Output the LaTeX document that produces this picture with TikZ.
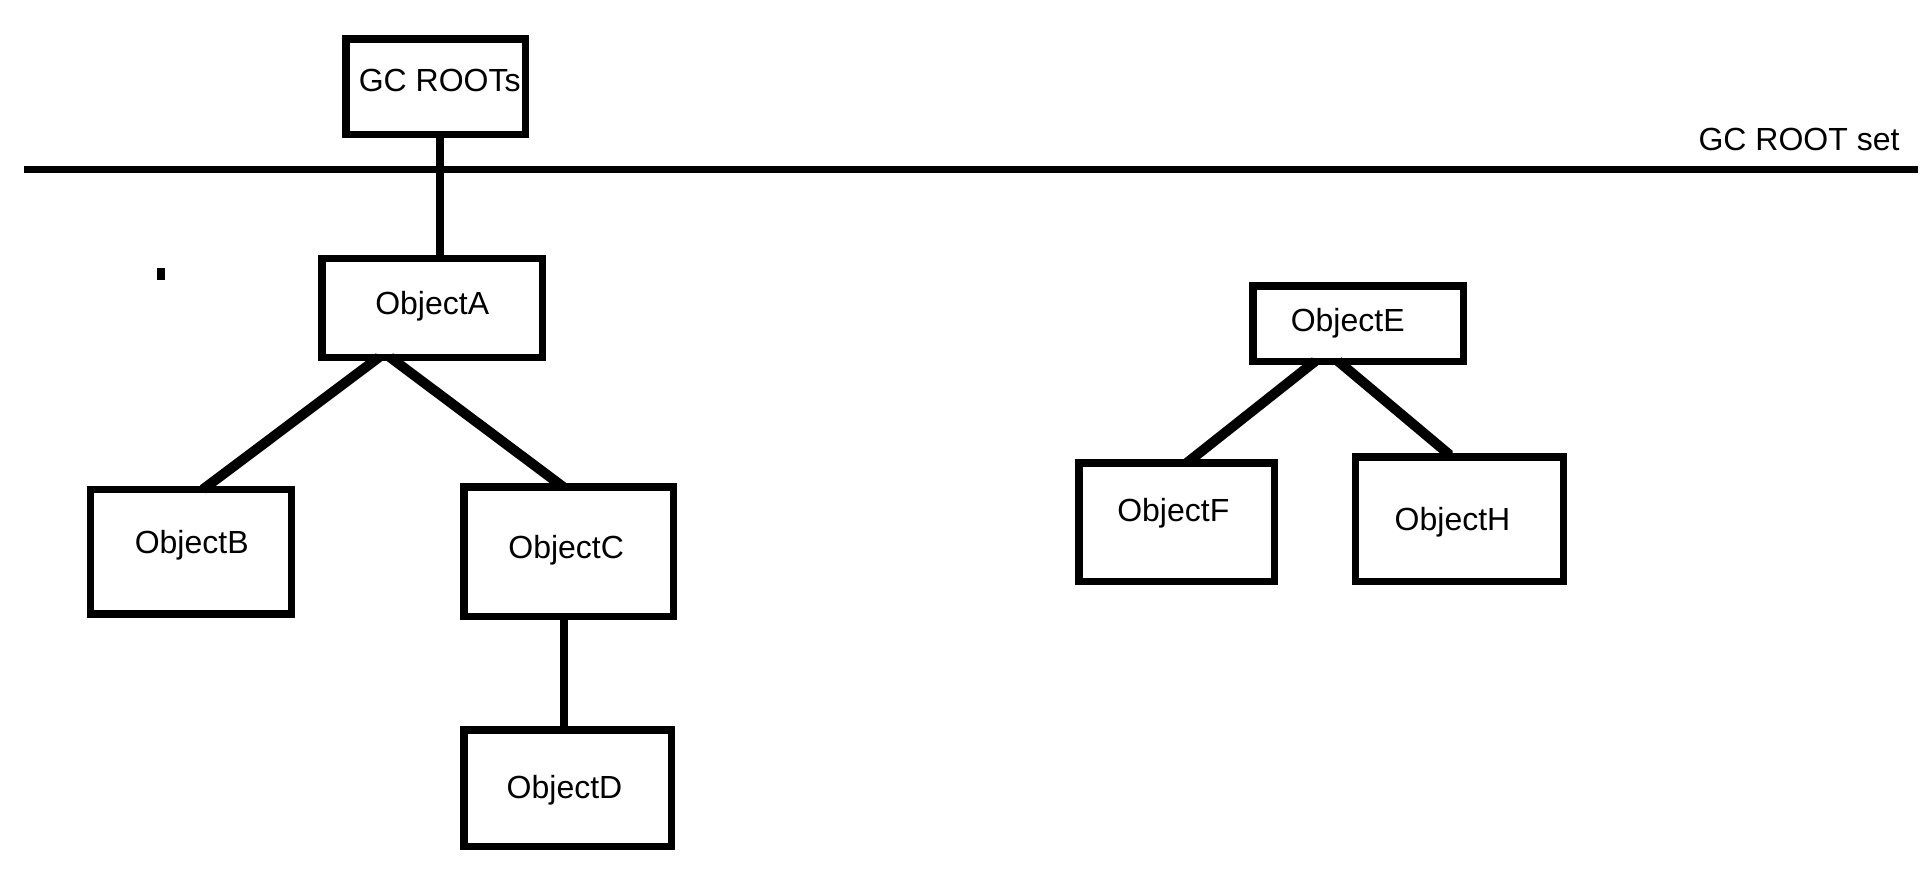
\documentclass[tikz,border=0pt]{standalone}
\usepackage{fontspec}
\setmainfont{Liberation Sans}
\begin{document}
\begin{tikzpicture}[x=1pt,y=-1pt,
  obj/.style 2 args={draw, line width=7.5pt, inner sep=0pt, outer sep=0pt,
    minimum width=#1pt, minimum height=#2pt},
  txt/.style={font=\fontsize{32}{38}\selectfont, inner sep=0pt, anchor=base},
  link/.style={line width=8.5pt},
  slant/.style={line width=10pt},
  rule/.style={line width=7.5pt}]
\useasboundingbox (0,0) rectangle (1926,870);

% root set boundary
\coordinate (rl) at (24,169.5);
\coordinate (rr) at (1918,169.5);
\draw[rule] (rl) -- (rr);
\node[txt] (setlbl) at (1799,150) {GC ROOT set};

% boxes
\node[obj={179.5}{95.5}]  (gc) at (435.5,86.5) {};
\node[obj={220.5}{99}]    (A)  at (432,307.75) {};
\node[obj={200.8}{124.5}] (B)  at (190.85,551.7) {};
\node[obj={209.5}{129.5}] (C)  at (568.5,551.5) {};
\node[obj={207.5}{116.5}] (D)  at (567.5,788) {};
\node[obj={210.8}{75.2}]  (E)  at (1358.15,323.65) {};
\node[obj={195.8}{118.2}] (F)  at (1176.65,522.15) {};
\node[obj={208.1}{124.2}] (H)  at (1459.5,519.15) {};

% box texts
\node[txt] (tgc) at (439.7,91)    {GC ROOTs};
\node[txt] (tA)  at (432.2,314)   {ObjectA};
\node[txt] (tB)  at (191.7,553.3) {ObjectB};
\node[txt] (tC)  at (566.2,558.3) {ObjectC};
\node[txt] (tD)  at (564.5,798.3) {ObjectD};
\node[txt] (tE)  at (1347.7,331)  {ObjectE};
\node[txt] (tF)  at (1173.3,521.7){ObjectF};
\node[txt] (tH)  at (1452.5,530)  {ObjectH};

% stray mark
\node[fill, inner sep=0pt, minimum width=8pt, minimum height=12pt] (dot) at (160.5,273.5) {};

% references
\draw[link] ([xshift=4.5pt]gc.south) -- ([xshift=8pt]A.north);
\draw[slant] ([xshift=-53pt]A.south) -- ([xshift=12pt]B.north);
\draw[slant] ([xshift=-42pt]A.south) -- ([xshift=-5.5pt]C.north);
\draw[link] ([xshift=-4.5pt]C.south) -- ([xshift=-3.5pt]D.north);
\draw[slant] ([xshift=-43pt]E.south) -- ([xshift=10pt]F.north);
\draw[slant] ([xshift=-20pt]E.south) -- ([xshift=-12pt,yshift=4pt]H.north) -- ([xshift=-12pt]H.north);
\end{tikzpicture}
\end{document}
